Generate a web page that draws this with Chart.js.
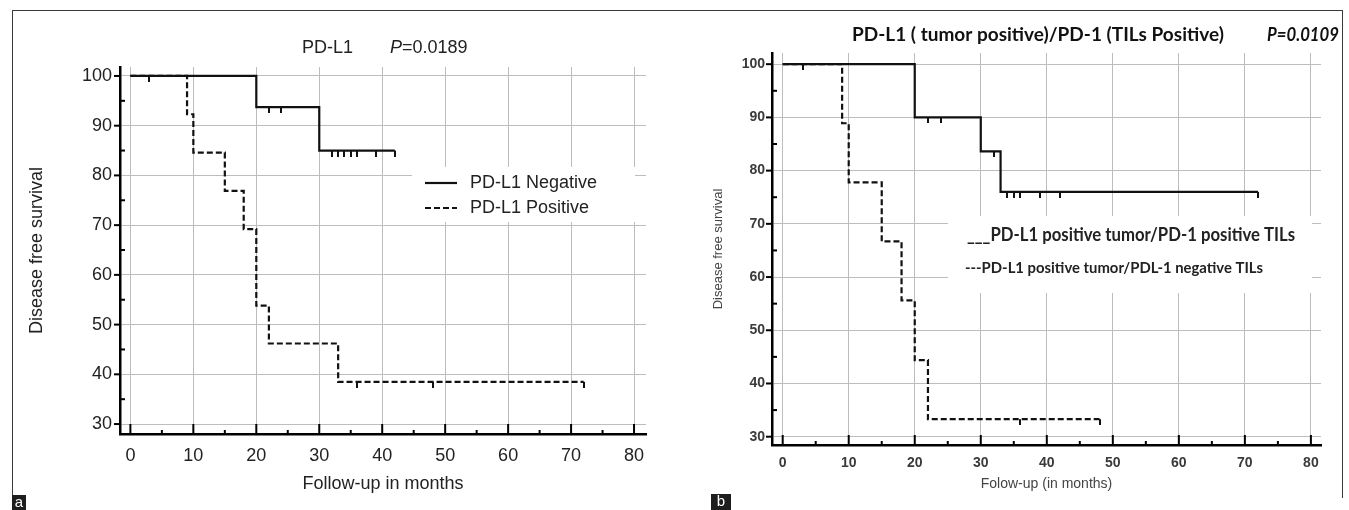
<!DOCTYPE html>
<html>
<head>
<meta charset="utf-8">
<script src="https://cdn.jsdelivr.net/npm/chart.js@4.4.1/dist/chart.umd.min.js"></script>
<style>
  html, body { margin: 0; padding: 0; background: #fff; }
  body { width: 1349px; height: 510px; position: relative; overflow: hidden; font-family: "Liberation Sans", Arial, sans-serif; }
  .panel { position: absolute; top: 0; }
  #frame { position: absolute; left: 12px; top: 10px; width: 1329px; height: 487px; border: 1.5px solid #3a3a3a; border-bottom: none; }
  .tag { position: absolute; background: #1e1e1e; color: #fff; font-size: 15px; line-height: 14px; text-align: center; }
</style>
</head>
<body>
<div id="frame"></div>
<div class="panel" style="left:0"><canvas id="chartA" width="670" height="510"></canvas></div>
<div class="panel" style="left:670px"><canvas id="chartB" width="679" height="510"></canvas></div>
<div class="tag" style="left:12px;top:495px;width:14px;height:15px">a</div>
<div class="tag" style="left:711px;top:494px;width:20px;height:16px">b</div>
<script>
// panel a : PD-L1 negative / positive (Kaplan-Meier steps, survival %)
const aNegTime = [0, 20, 30, 42];
const aNegSurv = [100, 93.75, 85, 85];
const aNegCensor = [22, 24, 32, 33, 34, 35, 36, 39, 42];
const aPosTime = [0, 9, 10, 15, 18, 20, 22, 33, 72];
const aPosSurv = [100, 92.3, 84.6, 76.9, 69.2, 53.8, 46.2, 38.5, 38.5];
const aPosCensor = [3, 36, 48, 72];

// panel b : PD-L1 positive tumor, PD-1 positive / negative TILs
const bPosTime = [0, 20, 30, 33, 72];
const bPosSurv = [100, 90, 83.6, 76, 76];
const bPosCensor = [22, 24, 32, 34, 35, 36, 39, 42, 72];
const bNegTime = [0, 9, 10, 15, 18, 20, 22, 48];
const bNegSurv = [100, 88.9, 77.8, 66.7, 55.6, 44.4, 33.3, 33.3];
const bNegCensor = [3, 36, 48];

// axis ticks
const xTicks = [0, 10, 20, 30, 40, 50, 60, 70, 80];
const xMinor = [5, 15, 25, 35, 45, 55, 65, 75];
const yTicks = [30, 40, 50, 60, 70, 80, 90, 100];
const yMinor = [35, 45, 55, 65, 75, 85, 95];

const INK = '#111';
const GRID = '#bdbdbd';

function survAt(times, surv, t) {
    let s = surv[0];
    for (let i = 0; i < times.length; i++) if (times[i] <= t) s = surv[i];
    return s;
}

// little downward tick used for censored cases
function censorMark(len) {
    const c = document.createElement('canvas');
    c.width = 2; c.height = len * 2;
    const g = c.getContext('2d');
    g.fillStyle = INK;
    g.fillRect(0, len, 2, len);
    return c;
}

function curve(times, surv, dashed) {
    return {
        type: 'line',
        data: times.map((t, i) => ({ x: t, y: surv[i] })),
        stepped: true,
        borderColor: INK,
        borderWidth: 2.2,
        borderDash: dashed ? [6, 3] : [],
        pointRadius: 0,
        fill: false,
    };
}

function censors(times, surv, censorTimes, mark) {
    return {
        type: 'scatter',
        data: censorTimes.map(t => ({ x: t, y: survAt(times, surv, t) })),
        pointStyle: mark,
        pointRadius: 3,
        showLine: false,
    };
}

// inward / outward tick marks like the original software draws them
const axisTicks = {
    id: 'axisTicks',
    afterDatasetsDraw(chart) {
        const { ctx, chartArea: a, scales: { x, y } } = chart;
        ctx.save();
        ctx.strokeStyle = '#000';
        ctx.lineWidth = 2;
        const seg = (x1, y1, x2, y2) => { ctx.beginPath(); ctx.moveTo(x1, y1); ctx.lineTo(x2, y2); ctx.stroke(); };
        xTicks.forEach(v => { const p = x.getPixelForValue(v); seg(p, a.bottom, p, a.bottom - 10); });
        xMinor.forEach(v => { const p = x.getPixelForValue(v); seg(p, a.bottom, p, a.bottom - 4); });
        yTicks.forEach(v => { const p = y.getPixelForValue(v); seg(a.left - 6, p, a.left, p); });
        yMinor.forEach(v => { const p = y.getPixelForValue(v); seg(a.left, p, a.left + 5, p); });
        ctx.restore();
    }
};

function makeChart(canvas, p) {
    const W = canvas.width, H = canvas.height;
    return new Chart(canvas, {
        type: 'line',
        data: { datasets: p.datasets },
        options: {
            responsive: false,
            animation: false,
            events: [],
            layout: { padding: { left: 0, top: p.top, right: W - p.right, bottom: 0 } },
            plugins: { legend: { display: false }, tooltip: { enabled: false } },
            scales: {
                x: {
                    type: 'linear', min: p.xMin, max: p.xMax,
                    afterBuildTicks: s => { s.ticks = xTicks.map(v => ({ value: v })); },
                    afterFit: s => { s.height = H - p.bottom; },
                    grid: { color: GRID, lineWidth: 1, drawTicks: false },
                    border: { color: '#000', width: 2.5 },
                    ticks: { padding: p.xPad, color: p.tickColor, font: p.tickFont, maxRotation: 0, autoSkip: false },
                    title: { display: true, text: p.xTitle, color: p.titleColor, font: p.xTitleFont, padding: { top: 0, bottom: p.xTitlePad } }
                },
                y: {
                    type: 'linear', min: p.yMin, max: p.yMax,
                    afterBuildTicks: s => { s.ticks = yTicks.map(v => ({ value: v })); },
                    afterFit: s => { s.width = p.left; },
                    grid: { color: GRID, lineWidth: 1, drawTicks: false },
                    border: { color: '#000', width: 2.5 },
                    ticks: { padding: p.yPad, color: p.tickColor, font: p.tickFont, autoSkip: false },
                    title: { display: true, text: p.yTitle, color: p.titleColor, font: p.yTitleFont, padding: { top: p.yTitlePad, bottom: 0 } }
                }
            }
        },
        plugins: [axisTicks, { id: 'deco', beforeDatasetsDraw: p.legend, afterDraw: p.title }]
    });
}

const SANS = '"Liberation Sans", Arial, sans-serif';
const CAL = 'Lato, "Open Sans", sans-serif';

// ---- panel a ----
const markA = censorMark(6);
makeChart(document.getElementById('chartA'), {
    left: 120, right: 646, top: 67, bottom: 434,
    xMin: -1.65, xMax: 81.9, yMin: 28, yMax: 101.8,
    xPad: 11, yPad: 8,
    tickColor: '#222', titleColor: '#222',
    tickFont: { family: SANS, size: 18 },
    xTitle: 'Follow-up in months', xTitleFont: { family: SANS, size: 18 }, xTitlePad: 15,
    yTitle: 'Disease free survival', yTitleFont: { family: SANS, size: 18 }, yTitlePad: 26,
    datasets: [
        curve(aNegTime, aNegSurv, false),
        curve(aPosTime, aPosSurv, true),
        censors(aNegTime, aNegSurv, aNegCensor, markA),
        censors(aPosTime, aPosSurv, aPosCensor, markA),
    ],
    legend(chart) {
        const ctx = chart.ctx;
        ctx.save();
        ctx.fillStyle = '#fff';
        ctx.fillRect(412, 167, 223, 55);
        ctx.strokeStyle = INK; ctx.lineWidth = 2.2;
        ctx.beginPath(); ctx.moveTo(425, 183); ctx.lineTo(457, 183); ctx.stroke();
        ctx.setLineDash([6, 3]);
        ctx.beginPath(); ctx.moveTo(425, 208); ctx.lineTo(457, 208); ctx.stroke();
        ctx.fillStyle = '#222';
        ctx.font = '18px ' + SANS;
        ctx.textBaseline = 'middle';
        ctx.fillText('PD-L1 Negative', 470, 183);
        ctx.fillText('PD-L1 Positive', 470, 208);
        ctx.restore();
    },
    title(chart) {
        const ctx = chart.ctx;
        ctx.save();
        ctx.fillStyle = '#222';
        ctx.textBaseline = 'middle';
        ctx.font = '18px ' + SANS;
        ctx.fillText('PD-L1', 302, 48);
        ctx.font = 'italic 18px ' + SANS;
        ctx.fillText('P', 390, 48);
        const pw = ctx.measureText('P').width;
        ctx.font = '18px ' + SANS;
        ctx.fillText('=0.0189', 390 + pw, 48);
        ctx.restore();
    }
});

// ---- panel b ----
const markB = censorMark(6);
makeChart(document.getElementById('chartB'), {
    left: 102, right: 651, top: 53, bottom: 445,
    xMin: -1.62, xMax: 81.53, yMin: 28.44, yMax: 102.1,
    xPad: 10, yPad: 7,
    tickColor: '#3a3a3a', titleColor: '#444',
    tickFont: { family: SANS, size: 14, weight: 'bold' },
    xTitle: 'Folow-up (in months)', xTitleFont: { family: SANS, size: 14 }, xTitlePad: 17,
    yTitle: 'Disease free survival', yTitleFont: { family: SANS, size: 13 }, yTitlePad: 41,
    datasets: [
        curve(bPosTime, bPosSurv, false),
        curve(bNegTime, bNegSurv, true),
        censors(bPosTime, bPosSurv, bPosCensor, markB),
        censors(bNegTime, bNegSurv, bNegCensor, markB),
    ],
    legend(chart) {
        const ctx = chart.ctx;
        ctx.save();
        ctx.fillStyle = '#fff';
        ctx.fillRect(278, 216, 364, 77);
        ctx.fillStyle = '#222';
        ctx.textBaseline = 'middle';
        ctx.font = 'bold 18px ' + CAL;
        ctx.fillText('___PD-L1 positive tumor/PD-1 positive TILs', 297, 235, 328);
        ctx.font = 'bold 16px ' + CAL;
        ctx.fillText('---PD-L1 positive tumor/PDL-1 negative TILs', 295, 268, 298);
        ctx.restore();
    },
    title(chart) {
        const ctx = chart.ctx;
        ctx.save();
        ctx.fillStyle = '#111';
        ctx.textBaseline = 'middle';
        ctx.font = 'bold 19px ' + CAL;
        ctx.fillText('PD-L1 ( tumor positive)/PD-1 (TILs Positive)', 182, 35, 398);
        ctx.font = 'italic bold 19px ' + CAL;
        ctx.fillText('P=0.0109', 597, 35, 72);
        ctx.restore();
    }
});
</script>
</body>
</html>
